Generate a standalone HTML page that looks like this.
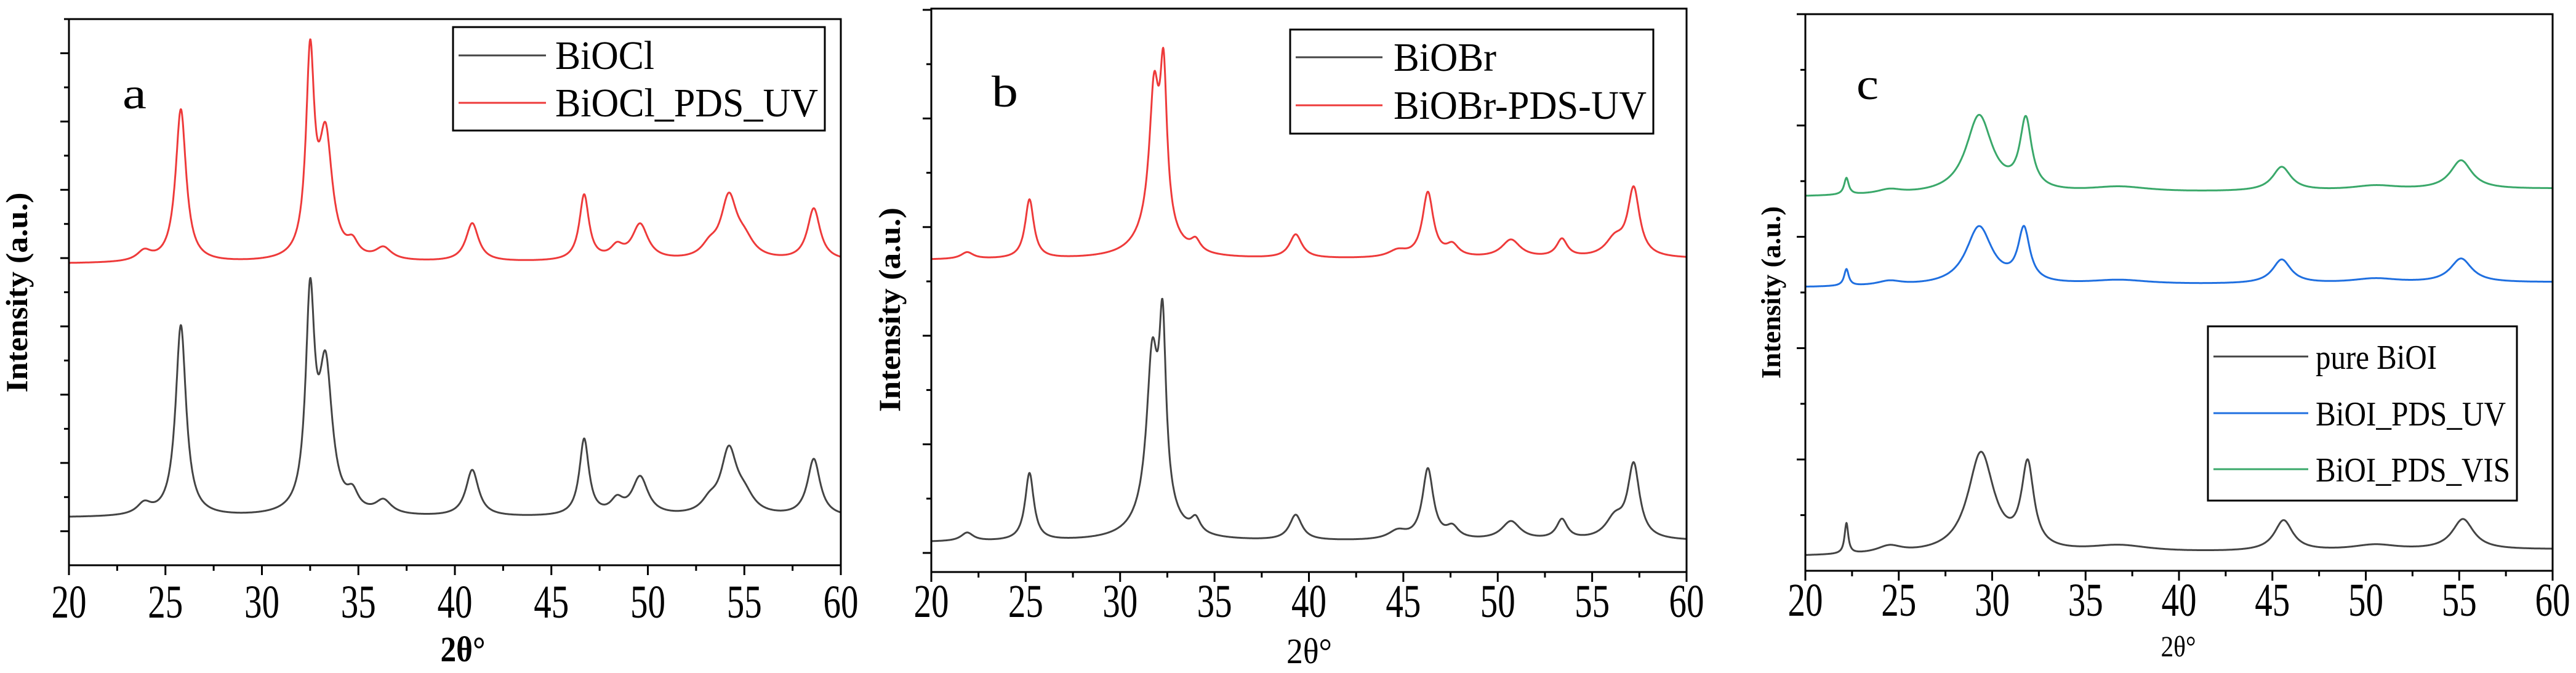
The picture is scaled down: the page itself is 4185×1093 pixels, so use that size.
<!DOCTYPE html>
<html><head><meta charset="utf-8"><style>
html,body{margin:0;padding:0;background:#fff;overflow:hidden;}
svg{display:block;font-family:"Liberation Serif",serif;}
</style></head><body>
<svg id="fig" width="4185" height="1093" viewBox="0 0 4185 1093" xmlns="http://www.w3.org/2000/svg"></svg>
<script>
// ---- Data: peak lists [2theta, height, halfwidth] on 0-100 intensity scale ----
const xTicks=[20,25,30,35,40,45,50,55,60];
const aBlackBase=[8.7,8.7];
const aBlackPeaks=[[23.9,2,0.45],[25.8,35,0.33],[32.5,38,0.28],[33.3,26,0.42],[34.7,3,0.35],[36.3,2.5,0.5],[40.9,8.5,0.4],[46.7,14,0.3],[48.4,2.5,0.4],[49.6,7,0.5],[53.2,2,0.5],[54.2,11.5,0.5],[55.0,3,0.6],[58.6,10.5,0.4]];
const aRedBase=[55.2,55.6];
const aRedPeaks=[[23.9,1.8,0.45],[25.8,28,0.33],[32.5,36,0.26],[33.3,22,0.42],[34.7,2.5,0.35],[36.3,2.2,0.5],[40.9,7,0.4],[46.7,12,0.3],[48.4,2.2,0.4],[49.6,6.5,0.5],[53.2,2,0.5],[54.2,11,0.5],[55.0,3,0.6],[58.6,9.5,0.4]];
const bBlackBase=[5.3,5.5];
const bBlackPeaks=[[21.9,1.5,0.4],[25.2,12,0.28],[31.7,26,0.35],[32.25,30,0.22],[31.9,6,1.0],[34.0,2.5,0.3],[39.3,4.5,0.4],[44.7,1.5,0.6],[46.3,12.5,0.35],[47.6,2,0.4],[50.7,3.3,0.6],[53.4,3.5,0.35],[56.2,3.5,0.6],[57.2,13,0.38]];
const bRedBase=[55.4,55.6];
const bRedPeaks=[[21.9,1.2,0.4],[25.2,10.5,0.28],[31.8,23,0.3],[32.3,26,0.22],[31.9,6,1.0],[34.0,2,0.3],[39.3,4.2,0.4],[44.7,1.2,0.6],[46.3,11.5,0.35],[47.6,2,0.4],[50.7,3.2,0.6],[53.4,3.2,0.35],[56.2,3,0.6],[57.2,12,0.38]];
const cBlackBase=[2.6,3.8];
const cBlackPeaks=[[22.2,5.5,0.12],[24.5,1.3,0.8],[29.4,18,0.85],[31.9,15,0.4],[36.8,1.2,2.0],[45.6,5.5,0.6],[50.5,1,1.5],[55.2,5.5,0.7]];
const cBlueBase=[50.9,51.8];
const cBluePeaks=[[22.2,3,0.15],[24.5,0.8,0.8],[29.3,10.5,0.85],[31.7,9.5,0.38],[36.8,0.8,2.0],[45.5,4.3,0.6],[50.5,0.8,1.5],[55.1,4.3,0.7]];
const cGreenBase=[67.2,68.6];
const cGreenPeaks=[[22.2,3,0.15],[24.5,0.8,0.8],[29.3,14,0.85],[31.8,12.5,0.38],[36.8,1,2.0],[45.5,4.3,0.6],[50.5,0.8,1.5],[55.1,5.2,0.7]];

const NS="http://www.w3.org/2000/svg";
const svg=document.getElementById('fig');
function mk(tag,attrs,parent){const e=document.createElementNS(NS,tag);for(const k in attrs)e.setAttribute(k,attrs[k]);(parent||svg).appendChild(e);return e;}

function profile(base,peaks,x){
  let y=base[0]+(base[1]-base[0])*(x-20)/40;
  for(const p of peaks){const d=(x-p[0])/p[2];y+=p[1]/(1+d*d);}
  return y;
}

function panel(cfg){
  const g=mk('g',{});
  
  
  const L=cfg.L,R=cfg.R,T=cfg.T,B=cfg.B;
  const sx=v=>L+(v-20)/40*(R-L);
  const sy=v=>B-v/100*(B-T);
  cfg.series.forEach(s=>{
    let d='';
    for(let x=20;x<=60.0001;x+=0.02){d+=(d?'L':'M')+sx(x).toFixed(1)+','+sy(profile(s.base,s.peaks,x)).toFixed(1);}
    const p=mk('path',{d:d,fill:'none',stroke:s.color,'stroke-width':3,'stroke-linejoin':'round'},g);
    
    
  });
  const f=mk('rect',{x:L,y:T,width:R-L,height:B-T,fill:'none',stroke:'#000','stroke-width':3},g);
  
  
  for(let v=20;v<=60;v+=2.5){
    const major=(v%5===0);
    mk('line',{x1:sx(v),x2:sx(v),y1:B,y2:B+(major?16:9),stroke:'#000','stroke-width':3},g);
  }
  xTicks.forEach(v=>{
    const t=mk('text',{x:sx(v)-28.5,y:cfg.tickY,'font-size':76,textLength:57,lengthAdjust:'spacingAndGlyphs',fill:'#000'},g);
    t.textContent=v;
    
    
  });
  cfg.yTicks.forEach((y,i)=>{
    const major=cfg.yMajor(i);
    mk('line',{x1:L,x2:L-(major?14:8),y1:y,y2:y,stroke:'#000','stroke-width':3},g);
  });
  const xt=mk('text',{x:cfg.xtX-cfg.xtW/2,y:cfg.xtY,'font-size':cfg.xtFs,'font-weight':cfg.xtBold?'bold':'normal',textLength:cfg.xtW,lengthAdjust:'spacingAndGlyphs'},g);
  xt.textContent='2θ°';
  
  
  const yt=mk('text',{x:-cfg.ytLen/2,y:0,'font-size':cfg.ytFs,'font-weight':'bold',textLength:cfg.ytLen,lengthAdjust:'spacingAndGlyphs',transform:`translate(${cfg.ytX},${cfg.ytY}) rotate(-90)`},g);
  yt.textContent='Intensity (a.u.)';
  
  
  const pl=mk('text',{x:cfg.lbl[0],y:cfg.lbl[1],'font-size':72,textLength:cfg.lbl[2],lengthAdjust:'spacingAndGlyphs'},g);
  pl.textContent=cfg.lblText;
  
  
  const lg=mk('g',{},g);
  
  
  const lb=cfg.leg.box;
  mk('rect',{x:lb[0],y:lb[1],width:lb[2]-lb[0],height:lb[3]-lb[1],fill:'#fff',stroke:'#000','stroke-width':3},lg);
  cfg.series.forEach((s,i)=>{
    const y=cfg.leg.ys[i];
    mk('line',{x1:cfg.leg.lx[0],x2:cfg.leg.lx[1],y1:y,y2:y,stroke:s.color,'stroke-width':3},lg);
    const t=mk('text',{x:cfg.leg.tx,y:y+cfg.leg.dy,'font-size':cfg.leg.fs,textLength:cfg.leg.lens[i],lengthAdjust:'spacingAndGlyphs'},lg);
    t.textContent=s.label;
    
    
  });
}
const range=(start,step,n)=>Array.from({length:n},(_,i)=>start+i*step);

panel({name:'panel-a',L:112,R:1366,T:31,B:918,tickY:1003,
  yTicks:range(31,55.45,16),yMajor:i=>i%2===1,
  xtX:752,xtY:1074,xtFs:58,xtW:73,xtBold:true,ytX:44,ytY:475,ytFs:50,ytLen:325,
  lbl:[199,176,39],lblText:'a',
  series:[{id:'series-biocl',label:'BiOCl',color:'#444444',base:aBlackBase,peaks:aBlackPeaks},
          {id:'series-biocl-pds-uv',label:'BiOCl_PDS_UV',color:'#ee3a3a',base:aRedBase,peaks:aRedPeaks}],
  leg:{box:[736,44,1340,212],ys:[90,167],lx:[745,887],tx:902,fs:66,dy:22,lens:[161,427]}});

panel({name:'panel-b',L:1513,R:2740,T:14,B:929,tickY:1002,
  yTicks:range(16,88.2,11),yMajor:i=>i%2===0,
  xtX:2127,xtY:1077,xtFs:58,xtW:74,xtBold:false,ytX:1462,ytY:503,ytFs:50,ytLen:332,
  lbl:[1611,173,43],lblText:'b',
  series:[{id:'series-biobr',label:'BiOBr',color:'#444444',base:bBlackBase,peaks:bBlackPeaks},
          {id:'series-biobr-pds-uv',label:'BiOBr-PDS-UV',color:'#ee3a3a',base:bRedBase,peaks:bRedPeaks}],
  leg:{box:[2096,48,2686,217],ys:[93,171],lx:[2105,2246],tx:2264,fs:66,dy:22,lens:[167,411]}});

panel({name:'panel-c',L:2933,R:4147,T:23,B:927,tickY:1000,
  yTicks:range(23,90.4,10),yMajor:i=>i%2===0,
  xtX:3539,xtY:1066,xtFs:48,xtW:57,xtBold:false,ytX:2892,ytY:475,ytFs:44,ytLen:280,
  lbl:[3016,161,36],lblText:'c',
  series:[{id:'series-pure-bioi',label:'pure BiOI',color:'#444444',base:cBlackBase,peaks:cBlackPeaks},
          {id:'series-bioi-pds-uv',label:'BiOI_PDS_UV',color:'#1f6fe0',base:cBlueBase,peaks:cBluePeaks},
          {id:'series-bioi-pds-vis',label:'BiOI_PDS_VIS',color:'#3aa86a',base:cGreenBase,peaks:cGreenPeaks}],
  leg:{box:[3587,530,4089,813],ys:[579,671,762],lx:[3596,3750],tx:3762,fs:56,dy:20,lens:[197,309,316]}});
</script>
</body></html>
